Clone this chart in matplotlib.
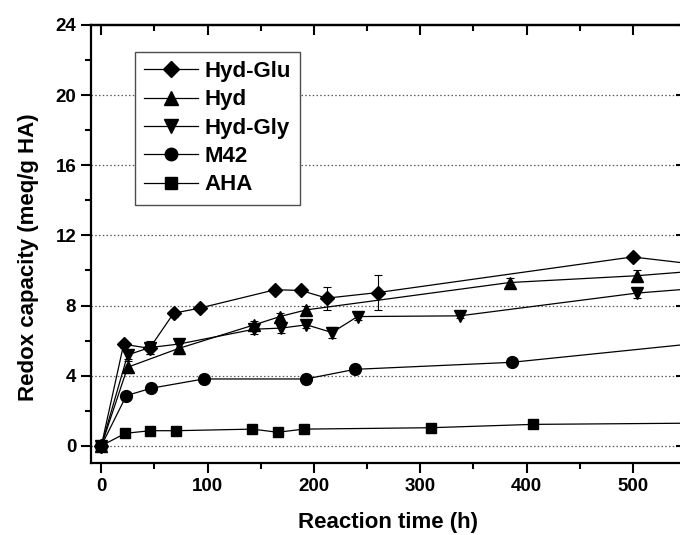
import matplotlib

matplotlib.use("Agg")
import matplotlib.pyplot as plt
from matplotlib.lines import Line2D
from matplotlib.ticker import MultipleLocator

plt.rcParams["font.family"] = ["Liberation Sans", "DejaVu Sans"]
plt.rcParams["font.weight"] = "bold"

# Data (last point of each series lies past the right edge)
glu_t = [0, 21, 45.4, 68, 92.4, 163.5, 187.7, 212, 260.3, 499.7, 600]
glu_v = [0, 5.79, 5.56, 7.56, 7.85, 8.9, 8.86, 8.42, 8.74, 10.77, 10.06]
glu_e = [0, 0.2, 0.35, 0.2, 0.1, 0.1, 0.1, 0.65, 1.0, 0.15, 0]

hyd_t = [0, 24.7, 72.7, 144, 168, 192.7, 384, 504, 600]
hyd_v = [0, 4.48, 5.55, 6.9, 7.37, 7.75, 9.31, 9.7, 10.16]
hyd_e = [0, 0.35, 0.3, 0.2, 0.2, 0.2, 0.25, 0.35, 0]

gly_t = [0, 24.7, 45.4, 72.7, 144, 169, 193, 217, 241, 337, 504, 600]
gly_v = [0, 5.18, 5.6, 5.8, 6.65, 6.71, 6.9, 6.46, 7.37, 7.41, 8.71, 9.17]
gly_e = [0, 0.25, 0.35, 0.3, 0.3, 0.3, 0.2, 0.3, 0.2, 0.15, 0.3, 0]

m42_t = [0, 23.5, 46.7, 96.2, 192.4, 238.7, 386, 600]
m42_v = [0, 2.86, 3.28, 3.81, 3.81, 4.36, 4.76, 6.09]
m42_e = [0, 0.1, 0.1, 0.1, 0.3, 0.1, 0.1, 0]

aha_t = [0, 22.6, 46, 70.5, 142.2, 166, 190.2, 309.9, 405.7, 600]
aha_v = [0, 0.71, 0.86, 0.86, 0.95, 0.77, 0.95, 1.03, 1.22, 1.31]
aha_e = [0, 0.05, 0.05, 0.05, 0.05, 0.05, 0.05, 0.05, 0.05, 0]

series = [
    ("Hyd-Glu", glu_t, glu_v, glu_e, "D", 7.5),
    ("Hyd", hyd_t, hyd_v, hyd_e, "^", 9),
    ("Hyd-Gly", gly_t, gly_v, gly_e, "v", 9),
    ("M42", m42_t, m42_v, m42_e, "o", 8.5),
    ("AHA", aha_t, aha_v, aha_e, "s", 7.5),
]

fig = plt.figure(figsize=(6.8, 5.35), dpi=100)
ax = fig.add_axes([0.1334, 0.134, 0.8754, 0.8193])

handles = []
for name, t, v, e, mk, ms in series:
    ax.errorbar(t, v, yerr=e, fmt="-", marker=mk, markersize=ms, color="black",
                linewidth=0.9, elinewidth=0.8, capsize=3, capthick=0.8)
    # legend handle without the error bar
    handles.append(Line2D([], [], color="black", linewidth=0.9, marker=mk,
                          markersize=ms + 0.5, label=name))

ax.set_xlim(-10, 550)
ax.set_ylim(-1, 24)

# dotted horizontal grid
for y in [0, 4, 8, 12, 16, 20]:
    ax.axhline(y, color="0.35", linestyle=(0, (1.2, 1.8)), linewidth=0.9, zorder=0)

ax.xaxis.set_major_locator(MultipleLocator(100))
ax.xaxis.set_minor_locator(MultipleLocator(50))
ax.yaxis.set_major_locator(MultipleLocator(4))
ax.yaxis.set_minor_locator(MultipleLocator(2))
ax.tick_params(which="major", direction="out", length=7, width=1.5, labelsize=13.5)
ax.tick_params(which="minor", direction="out", length=4, width=1.5)

for s in ax.spines.values():
    s.set_linewidth(1.6)

# inward ticks on the top and right sides
top = ax.secondary_xaxis("top")
top.xaxis.set_major_locator(MultipleLocator(100))
top.xaxis.set_minor_locator(MultipleLocator(50))
top.tick_params(which="major", direction="in", length=7, width=1.5, labeltop=False)
top.tick_params(which="minor", direction="in", length=4, width=1.5)
top.spines["top"].set_linewidth(1.6)
right = ax.secondary_yaxis("right")
right.yaxis.set_major_locator(MultipleLocator(4))
right.yaxis.set_minor_locator(MultipleLocator(2))
right.tick_params(which="major", direction="in", length=7, width=1.5, labelright=False)
right.tick_params(which="minor", direction="in", length=4, width=1.5)

ax.set_xlabel("Reaction time (h)", fontsize=16, fontweight="bold")
ax.set_ylabel("Redox capacity (meq/g HA)", fontsize=16, fontweight="bold")
ax.xaxis.set_label_coords(0.5, -0.11)
ax.yaxis.set_label_coords(-0.087, 0.47)

leg = ax.legend(handles=handles, loc="upper left", bbox_to_anchor=(0.0744, 0.939),
                borderaxespad=0, fontsize=16, frameon=True, fancybox=False,
                handlelength=2.4, handletextpad=0.3, labelspacing=0.33, borderpad=0.42)
leg.get_frame().set_edgecolor("0.3")
leg.get_frame().set_linewidth(1.0)
leg.get_frame().set_alpha(1.0)

fig.savefig("out.png", dpi=100)
